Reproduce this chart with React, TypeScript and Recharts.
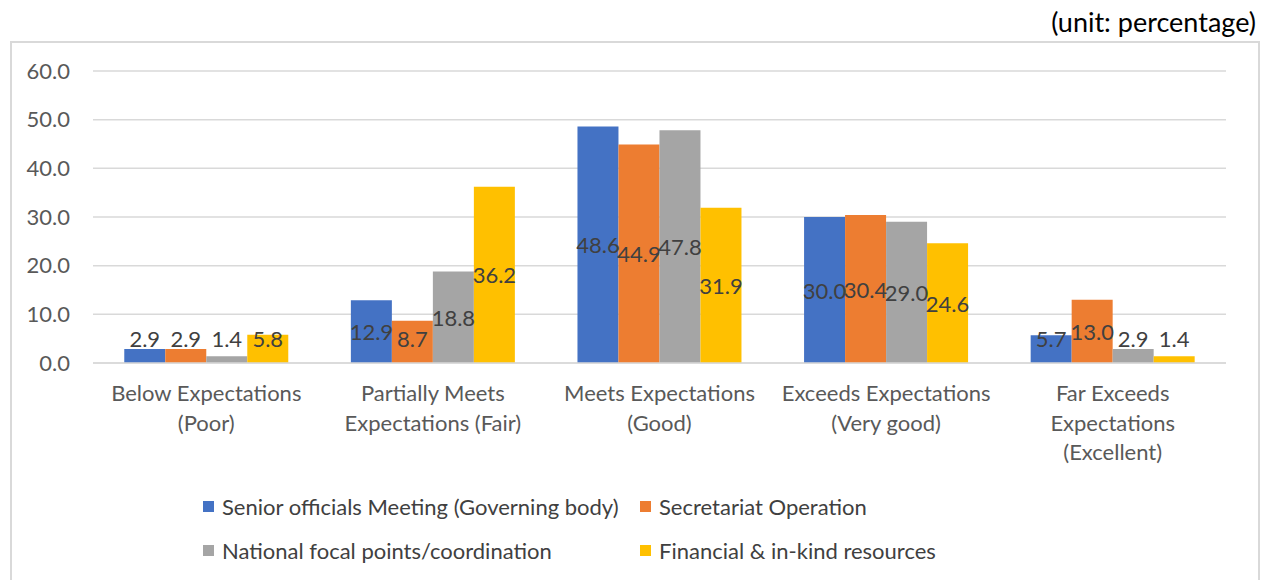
import React from 'react';
import { BarChart, Bar, XAxis, YAxis, CartesianGrid, Legend, LabelList } from 'recharts';

const categories = [
  'Below Expectations\n(Poor)',
  'Partially Meets\nExpectations (Fair)',
  'Meets Expectations\n(Good)',
  'Exceeds Expectations\n(Very good)',
  'Far Exceeds\nExpectations\n(Excellent)',
];
const seniorOfficials = [2.9, 12.9, 48.6, 30.0, 5.7];
const secretariat = [2.9, 8.7, 44.9, 30.4, 13.0];
const focalPoints = [1.4, 18.8, 47.8, 29.0, 2.9];
const resources = [5.8, 36.2, 31.9, 24.6, 1.4];
const yTicks = [0, 10, 20, 30, 40, 50, 60];

const seriesDefs = [
  { key: 'senior', name: 'Senior officials Meeting (Governing body)', color: '#4472C4', values: seniorOfficials },
  { key: 'secretariat', name: 'Secretariat Operation', color: '#ED7D31', values: secretariat },
  { key: 'focal', name: 'National focal points/coordination', color: '#A5A5A5', values: focalPoints },
  { key: 'resources', name: 'Financial & in-kind resources', color: '#FFC000', values: resources },
];
const seriesOrder = seriesDefs.map((s) => s.name);

const data = categories.map((c, i) => {
  const row: Record<string, string | number> = { name: c };
  seriesDefs.forEach((s) => {
    row[s.key] = s.values[i];
  });
  return row;
});

const FONT = 'Lato, "Open Sans", sans-serif';

const CategoryTick = (props: any) => {
  const { x, y, payload } = props;
  const lines = String(payload.value).split('\n');
  return (
    <text x={x} y={y} textAnchor="middle" fill="#595959" fontSize={22} fontFamily={FONT}>
      {lines.map((l, i) => (
        <tspan key={i} x={x} dy={i === 0 ? 30 : 29.5}>
          {l}
        </tspan>
      ))}
    </text>
  );
};

const ValueLabel = (props: any) => {
  const { x, y, width, height, value } = props;
  const cy = y + height - Math.max(height / 2, 25);
  return (
    <text
      x={x + width / 2}
      y={cy}
      textAnchor="middle"
      dominantBaseline="central"
      fill="#404040"
      fontSize={22}
      fontFamily={FONT}
    >
      {Number(value).toFixed(1)}
    </text>
  );
};

const LegendGrid = (props: any) => {
  const items = [...(props.payload || [])].sort(
    (a: any, b: any) => seriesOrder.indexOf(a.value) - seriesOrder.indexOf(b.value)
  );
  return (
    <div
      style={{
        display: 'grid',
        gridTemplateColumns: '437px auto',
        height: 88,
        fontFamily: FONT,
        fontSize: 22,
        color: '#404040',
        whiteSpace: 'nowrap',
      }}
    >
      {items.map((it: any) => (
        <div key={it.value} style={{ display: 'flex', alignItems: 'center', height: 44 }}>
          <span style={{ width: 11, height: 11, background: it.color, marginRight: 8, display: 'inline-block' }} />
          <span>{it.value}</span>
        </div>
      ))}
    </div>
  );
};

export default function App() {
  return (
    <div style={{ position: 'absolute', left: 0, top: 0, width: 1267, height: 580, background: '#fff', overflow: 'hidden' }}>
      <div
        style={{
          position: 'absolute',
          right: 11,
          top: 5,
          fontFamily: FONT,
          fontSize: 27,
          color: '#000',
          whiteSpace: 'nowrap',
        }}
      >
        (unit: percentage)
      </div>
      <div
        style={{
          position: 'absolute',
          left: 10,
          top: 41,
          width: 1246,
          height: 600,
          border: '2px solid #d9d9d9',
        }}
      />
      <div style={{ position: 'absolute', left: 0, top: 0 }}>
        <BarChart
          width={1267}
          height={580}
          data={data}
          margin={{ top: 71, right: 41, left: 33, bottom: 29 }}
          barCategoryGap="13.8%"
          barGap={0}
        >
          <CartesianGrid vertical={false} stroke="#d9d9d9" strokeWidth={1.5} />
          <XAxis
            dataKey="name"
            interval={0}
            height={100}
            tickLine={false}
            axisLine={{ stroke: '#d9d9d9', strokeWidth: 1.5 }}
            tick={<CategoryTick />}
          />
          <YAxis
            domain={[0, 60]}
            ticks={yTicks}
            width={60}
            axisLine={false}
            tickLine={false}
            tickMargin={17}
            tickFormatter={(v: number) => v.toFixed(1)}
            tick={{ fill: '#595959', fontSize: 22, fontFamily: FONT }}
          />
          <Legend
            verticalAlign="bottom"
            itemSorter={null as any}
            content={<LegendGrid />}
            wrapperStyle={{ top: 484, left: 203, width: 1000, bottom: 'auto' }}
          />
          {seriesDefs.map((s) => (
            <Bar key={s.key} dataKey={s.key} name={s.name} fill={s.color} isAnimationActive={false}>
              <LabelList dataKey={s.key} content={<ValueLabel />} />
            </Bar>
          ))}
        </BarChart>
      </div>
    </div>
  );
}
